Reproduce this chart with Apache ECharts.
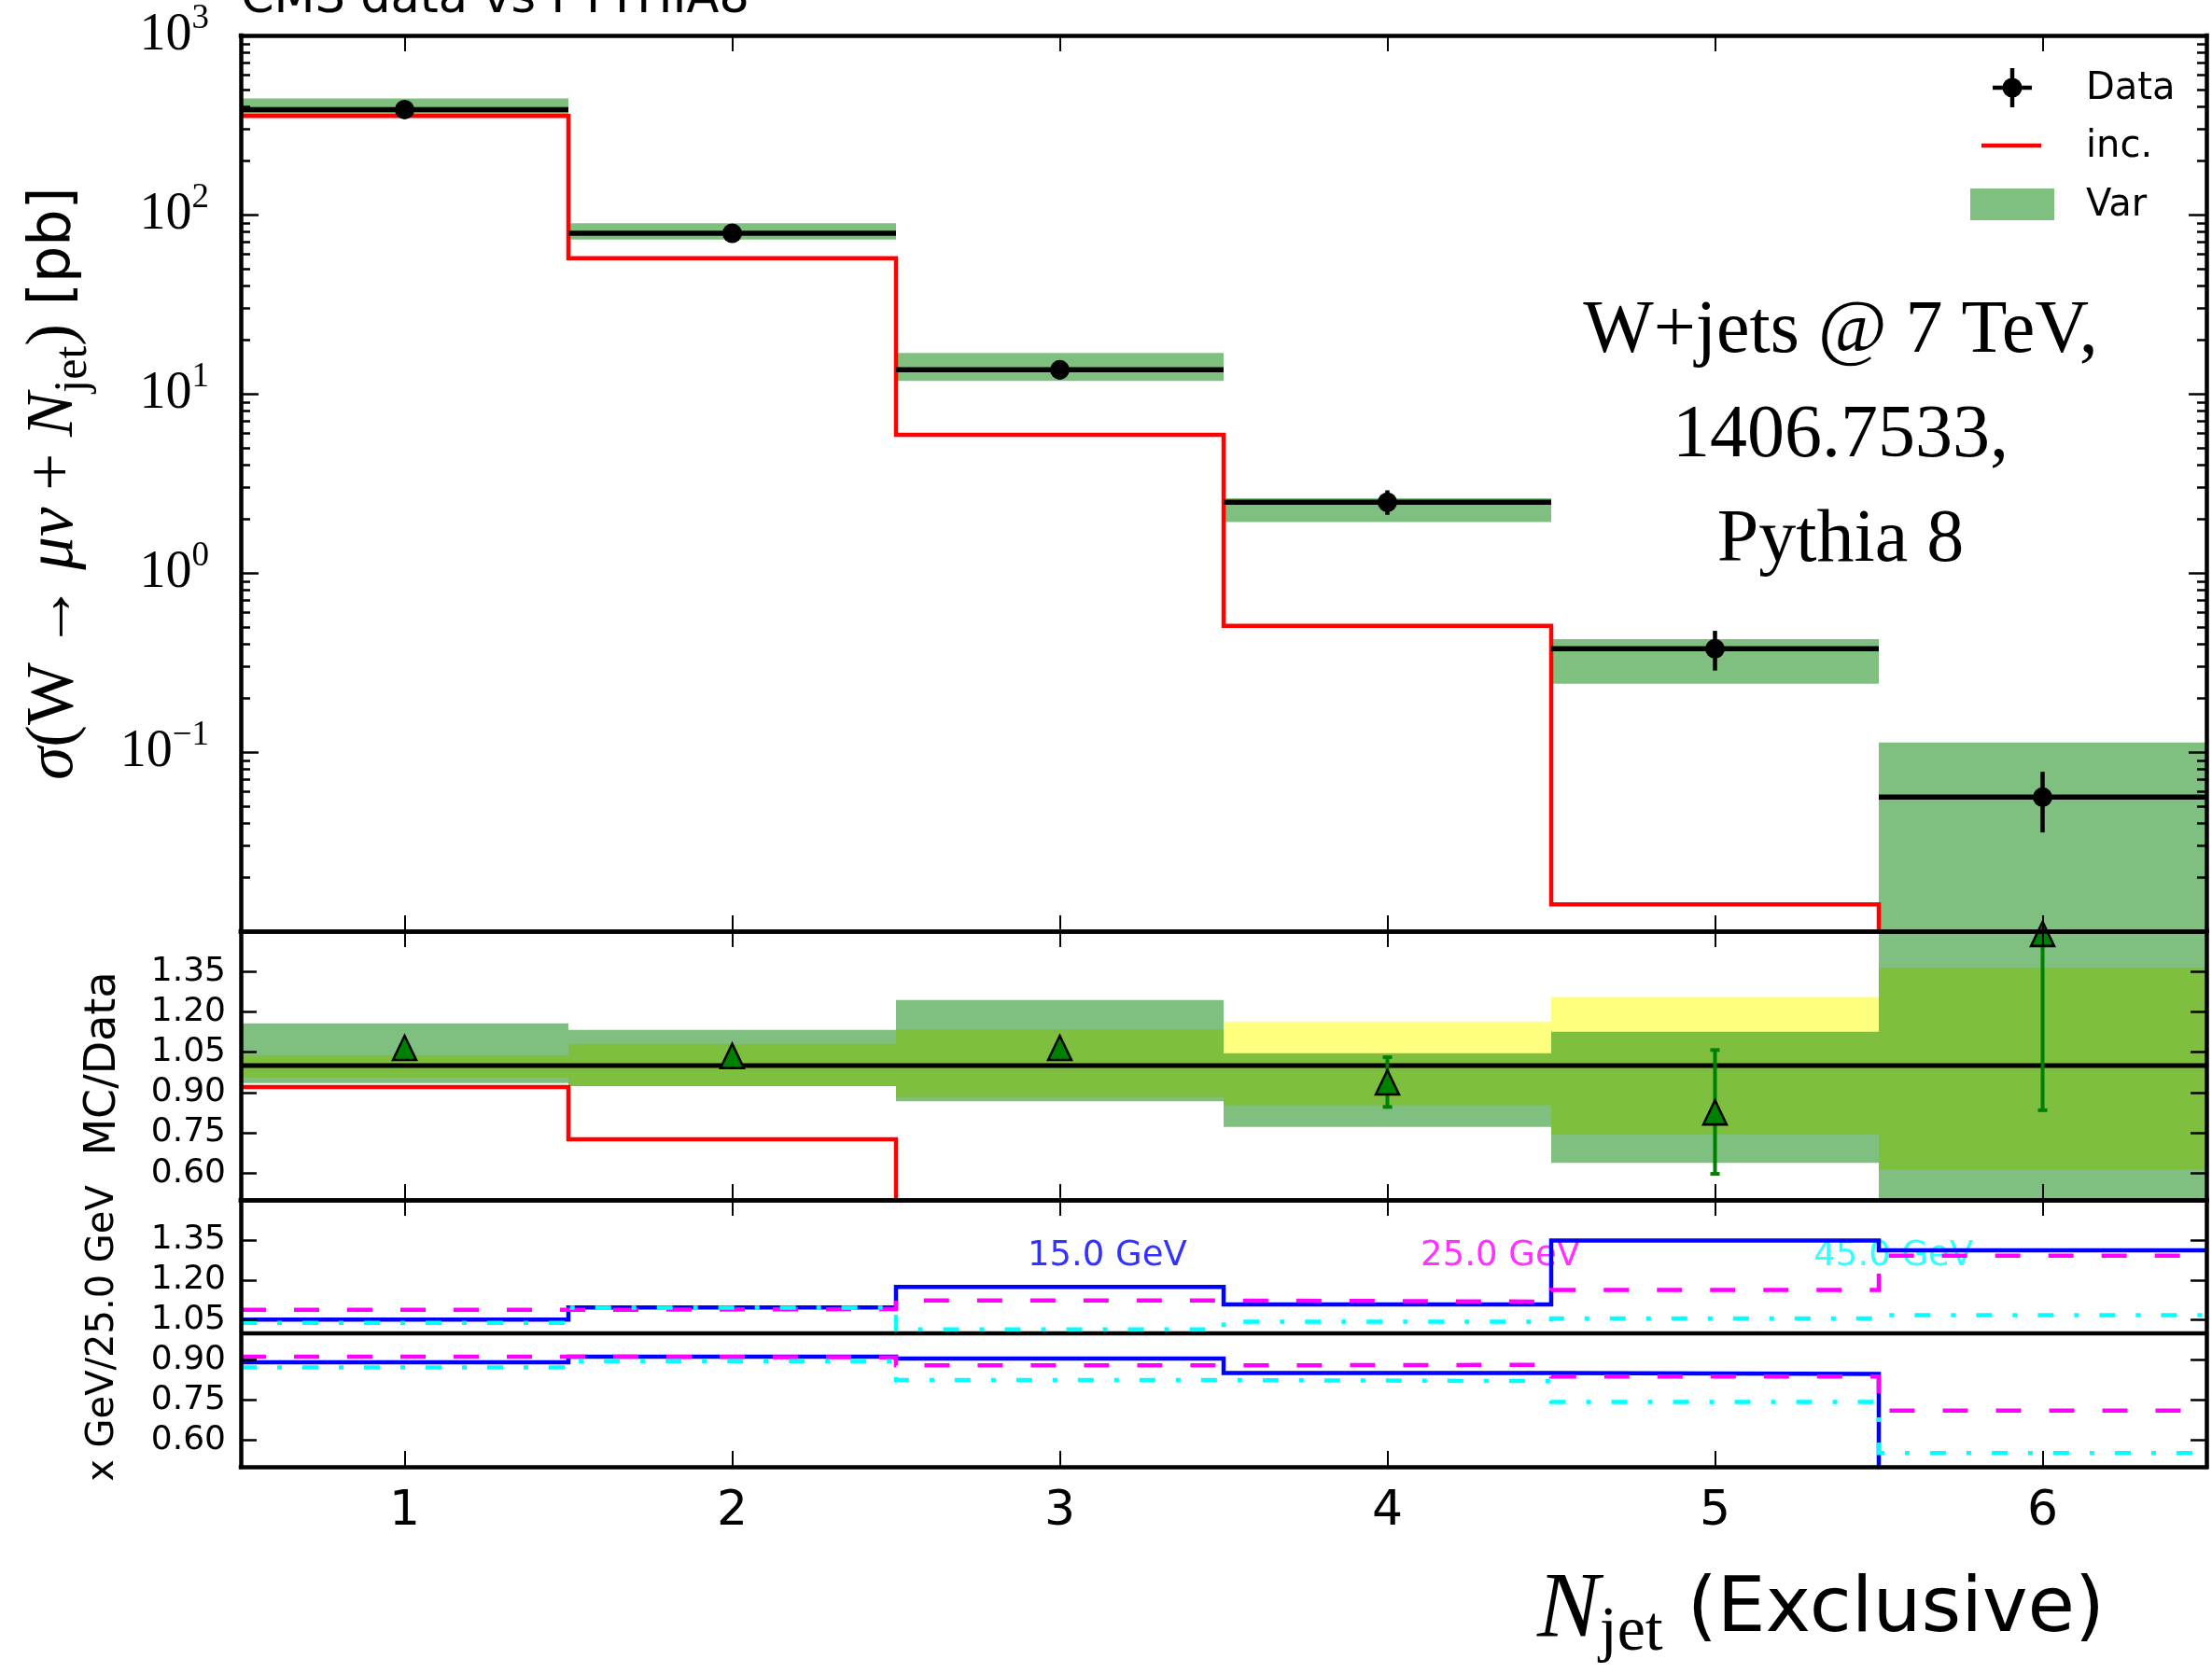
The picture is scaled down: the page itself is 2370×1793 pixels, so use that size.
<!DOCTYPE html>
<html>
<head>
<meta charset="utf-8">
<title>W+jets exclusive jet multiplicity</title>
<script src="https://cdn.jsdelivr.net/npm/echarts@6.0.0/dist/echarts.min.js"></script>
<style>
  html, body { margin: 0; padding: 0; background: #ffffff; }
  #chart { width: 2370px; height: 1793px; }
</style>
</head>
<body>
<div id="chart"></div>
<script>
// ---- bins (exclusive jet multiplicity) ----
const nJet = [1, 2, 3, 4, 5, 6];
const xTickValues = [1, 2, 3, 4, 5, 6];

// ---- top panel: cross sections [pb] ----
const dataXsec   = [386, 78.7, 13.6, 2.48, 0.377, 0.056];
const dataXsecLo = [369, 72.7, 12.0, 2.11, 0.285, 0.0356];
const dataXsecHi = [401, 85.1, 15.4, 2.89, 0.475, 0.0776];
const varXsecLo  = [362, 72.6, 11.8, 1.92, 0.241, 0.004];
const varXsecHi  = [445, 89.4, 16.9, 2.61, 0.427, 0.113];
const incXsec    = [355, 57.1, 5.9, 0.507, 0.0141, 0.001];

// ---- middle panel: MC/Data ----
const dataRelLo    = [0.956, 0.924, 0.881, 0.852, 0.744, 0.612];
const dataRelHi    = [1.039, 1.081, 1.135, 1.164, 1.255, 1.365];
const varRelLo     = [0.935, 0.924, 0.867, 0.772, 0.638, 0.07];
const varRelHi     = [1.157, 1.133, 1.244, 1.046, 1.126, 2.0];
const incRel       = [0.92, 0.726, 0.434, 0.204, 0.037, 0.02];
const varCentral   = [1.066, 1.036, 1.066, 0.9375, 0.826, 1.49];
const varCentralLo = [1.058, 1.028, 1.058, 0.846, 0.597, 0.834];
const varCentralHi = [1.074, 1.044, 1.074, 1.031, 1.058, 2.15];

// ---- bottom panel: jet-pT threshold variations relative to 25.0 GeV ----
const cut15Up   = [1.052, 1.097, 1.174, 1.108, 1.348, 1.311];
const cut25Up   = [1.088, 1.091, 1.123, 1.119, 1.163, 1.291];
const cut45Up   = [1.039, 1.096, 1.015, 1.044, 1.056, 1.068];
const cut15Down = [0.892, 0.913, 0.906, 0.851, 0.848, 0];
const cut25Down = [0.913, 0.910, 0.880, 0.882, 0.838, 0.711];
const cut45Down = [0.872, 0.896, 0.825, 0.821, 0.743, 0.552];
const cutLabels = ['15.0 GeV', '25.0 GeV', '45.0 GeV'];

// ---- tick values ----
const decadeTicks  = [0.01, 0.1, 1, 10, 100, 1000];
const decadeLabels = [0.1, 1, 10, 100, 1000];
const ratioTicks   = [0.6, 0.75, 0.9, 1.05, 1.2, 1.35];
const unity        = 1;

// minor log ticks: 2..9 inside each decade
const minorTicks = [];
decadeTicks.slice(0, -1).forEach(d => {
  for (let k = 2; k <= 9; k++) minorTicks.push(+(d * k).toPrecision(3));
});

const GREEN_FILL = 'rgba(0,128,0,0.5)';
const YELLOW_FILL = 'rgba(255,255,0,0.5)';

// histogram outline: one point per lower bin edge plus the final upper edge
function stepData(vals) {
  const d = nJet.map((x, i) => [x - 0.5, vals[i]]);
  d.push([nJet[nJet.length - 1] + 0.5, vals[vals.length - 1]]);
  return d;
}

function frameLine(show) {
  return { show: show, onZero: false, lineStyle: { color: '#000', width: 4.5, cap: 'square' } };
}

function xAxisCfg(grid, pos, withLabels) {
  return {
    type: 'value', gridIndex: grid, position: pos, min: 0.5, max: 6.5, z: 10,
    axisLine: frameLine(true),
    axisTick: { show: true, inside: true, length: 17, customValues: xTickValues,
                lineStyle: { color: '#000', width: 2 } },
    axisLabel: withLabels
      ? { show: true, customValues: xTickValues, margin: 22, color: '#000',
          fontFamily: 'DejaVu Sans', fontSize: 52 }
      : { show: false },
    splitLine: { show: false }
  };
}

function supLabel(v) {
  const e = Math.round(Math.log10(v));
  return '{b|10}{sup|' + (e < 0 ? '\u2212' + (-e) : e) + '}';
}

function logAxisCfg(pos, ticks, len, line, withLabels) {
  return {
    type: 'log', logBase: 10, gridIndex: 0, position: pos, min: 0.01, max: 1000, z: 10,
    axisLine: frameLine(line),
    axisTick: { show: true, inside: true, length: len, customValues: ticks,
                lineStyle: { color: '#000', width: 2.5 } },
    axisLabel: withLabels ? {
      show: true, customValues: decadeLabels, margin: 34, formatter: supLabel,
      rich: {
        b:   { fontFamily: 'Liberation Serif', fontSize: 56, lineHeight: 72, verticalAlign: 'middle', color: '#000' },
        sup: { fontFamily: 'Liberation Serif', fontSize: 37, lineHeight: 37, verticalAlign: 'top', color: '#000' }
      }
    } : { show: false },
    splitLine: { show: false }
  };
}

function ratioAxisCfg(grid, pos, withLabels) {
  return {
    type: 'value', gridIndex: grid, position: pos, min: 0.5, max: 1.5, z: 10,
    axisLine: frameLine(true),
    axisTick: { show: true, inside: true, length: 17, customValues: ratioTicks,
                lineStyle: { color: '#000', width: 2.5 } },
    axisLabel: withLabels ? {
      show: true, customValues: ratioTicks, margin: 16, color: '#000',
      fontFamily: 'DejaVu Sans', fontSize: 36, formatter: v => v.toFixed(2)
    } : { show: false },
    splitLine: { show: false }
  };
}

// filled band per bin between lo and hi
function bandSeries(xi, yi, lo, hi, fill, z) {
  return {
    type: 'custom', xAxisIndex: xi, yAxisIndex: yi, clip: true, z: z, silent: true,
    encode: { x: 0, y: [1, 2] },
    data: nJet.map((x, i) => [x, lo[i], hi[i]]),
    renderItem: (params, api) => {
      const x = api.value(0);
      const p1 = api.coord([x - 0.5, api.value(2)]);
      const p2 = api.coord([x + 0.5, api.value(1)]);
      return { type: 'rect',
               shape: { x: p1[0], y: p1[1], width: p2[0] - p1[0], height: p2[1] - p1[1] },
               style: { fill: fill } };
    }
  };
}

function stepSeries(xi, yi, vals, color, width, dash, z) {
  return {
    type: 'line', xAxisIndex: xi, yAxisIndex: yi, step: 'end', symbol: 'none',
    clip: true, silent: true, z: z, data: stepData(vals),
    lineStyle: { color: color, width: width, type: dash || 'solid', join: 'miter', cap: 'butt' }
  };
}

const DASHED = [27, 30];
const DASHDOT = [17, 22, 5, 22];

const option = {
  animation: false,
  backgroundColor: '#ffffff',
  grid: [
    { left: 258, right: 6, top: 38, height: 960, outerBoundsMode: 'none' },
    { left: 258, right: 6, top: 998, height: 288, outerBoundsMode: 'none' },
    { left: 258, right: 6, top: 1286, height: 286, outerBoundsMode: 'none' }
  ],
  xAxis: [
    xAxisCfg(0, 'bottom', false), xAxisCfg(0, 'top', false),
    xAxisCfg(1, 'bottom', false), xAxisCfg(1, 'top', false),
    xAxisCfg(2, 'bottom', true),  xAxisCfg(2, 'top', false)
  ],
  yAxis: [
    logAxisCfg('left', decadeTicks, 19, true, true),
    logAxisCfg('right', decadeTicks, 19, true, false),
    logAxisCfg('left', minorTicks, 10, false, false),
    logAxisCfg('right', minorTicks, 10, false, false),
    ratioAxisCfg(1, 'left', true), ratioAxisCfg(1, 'right', false),
    ratioAxisCfg(2, 'left', true), ratioAxisCfg(2, 'right', false)
  ],
  series: [
    // ---- top panel ----
    bandSeries(0, 0, varXsecLo, varXsecHi, GREEN_FILL, 1),
    stepSeries(0, 0, incXsec, '#ff0000', 4.5, null, 3),
    {
      type: 'custom', xAxisIndex: 0, yAxisIndex: 0, clip: true, z: 4, silent: true,
      encode: { x: 0, y: [1, 2, 3] },
      data: nJet.map((x, i) => [x, dataXsec[i], dataXsecLo[i], dataXsecHi[i]]),
      renderItem: (params, api) => {
        const x = api.value(0), y = api.value(1);
        const a = api.coord([x - 0.5, y]), b = api.coord([x + 0.5, y]);
        const c = api.coord([x, y]);
        const lo = api.coord([x, api.value(2)]), hi = api.coord([x, api.value(3)]);
        return { type: 'group', children: [
          { type: 'line', shape: { x1: a[0], y1: a[1], x2: b[0], y2: b[1] }, style: { stroke: '#000', lineWidth: 5.5 } },
          { type: 'line', shape: { x1: c[0], y1: hi[1], x2: c[0], y2: lo[1] }, style: { stroke: '#000', lineWidth: 4.5 } },
          { type: 'circle', shape: { cx: c[0], cy: c[1], r: 10.5 }, style: { fill: '#000' } }
        ]};
      }
    },
    // ---- middle panel ----
    bandSeries(2, 4, dataRelLo, dataRelHi, YELLOW_FILL, 1),
    bandSeries(2, 4, varRelLo, varRelHi, GREEN_FILL, 2),
    {
      type: 'line', xAxisIndex: 2, yAxisIndex: 4, symbol: 'none', silent: true, z: 3,
      data: [[0.5, unity], [6.5, unity]], lineStyle: { color: '#000', width: 5 }
    },
    stepSeries(2, 4, incRel, '#ff0000', 4.5, null, 4),
    {
      type: 'custom', xAxisIndex: 2, yAxisIndex: 4, clip: true, z: 5, silent: true,
      encode: { x: 0, y: [1, 2] },
      data: nJet.map((x, i) => [x, varCentralLo[i], varCentralHi[i]]),
      renderItem: (params, api) => {
        const x = api.value(0);
        const lo = api.coord([x, api.value(1)]), hi = api.coord([x, api.value(2)]);
        const cap = 5;
        const st = { stroke: '#008000', lineWidth: 4 };
        return { type: 'group', children: [
          { type: 'line', shape: { x1: lo[0], y1: lo[1], x2: hi[0], y2: hi[1] }, style: st },
          { type: 'line', shape: { x1: lo[0] - cap, y1: lo[1], x2: lo[0] + cap, y2: lo[1] }, style: st },
          { type: 'line', shape: { x1: hi[0] - cap, y1: hi[1], x2: hi[0] + cap, y2: hi[1] }, style: st }
        ]};
      }
    },
    {
      type: 'scatter', xAxisIndex: 2, yAxisIndex: 4, z: 6, silent: true,
      symbol: 'triangle', symbolSize: [25, 26],
      itemStyle: { color: '#008000', borderColor: '#000', borderWidth: 2.5, opacity: 1 },
      data: nJet.map((x, i) => [x, varCentral[i]])
    },
    // ---- bottom panel ----
    {
      type: 'line', xAxisIndex: 4, yAxisIndex: 6, symbol: 'none', silent: true, z: 2,
      data: [[0.5, unity], [6.5, unity]], lineStyle: { color: '#000', width: 4.5 }
    },
    stepSeries(4, 6, cut15Up, '#0000ff', 4.5, null, 3),
    stepSeries(4, 6, cut25Up, '#ff00ff', 4.5, DASHED, 3),
    stepSeries(4, 6, cut45Up, '#00ffff', 4.5, DASHDOT, 3),
    stepSeries(4, 6, cut15Down, '#0000ff', 4.5, null, 3),
    stepSeries(4, 6, cut25Down, '#ff00ff', 4.5, DASHED, 3),
    stepSeries(4, 6, cut45Down, '#00ffff', 4.5, DASHDOT, 3),
    {
      type: 'scatter', xAxisIndex: 4, yAxisIndex: 6, z: 2, silent: true,
      symbolSize: 1, itemStyle: { color: 'rgba(0,0,0,0)' },
      label: { show: true, position: 'right', distance: 0, formatter: '{b}',
               fontFamily: 'DejaVu Sans', fontSize: 37 },
      data: [
        { name: cutLabels[0], value: [2.9, 1.29], label: { color: '#0000ff' } },
        { name: cutLabels[1], value: [4.1, 1.29], label: { color: '#ff00ff' } },
        { name: cutLabels[2], value: [5.3, 1.29], label: { color: '#00ffff' } }
      ]
    }
  ],
  graphic: [
    // header
    { type: 'text', x: 258, y: 0, style: { text: 'CMS data vs PYTHIA8', fill: '#000',
      fontFamily: 'DejaVu Sans', fontSize: 51, align: 'left', verticalAlign: 'middle' } },
    // process / reference annotation
    { type: 'text', x: 1972, y: 300, style: { text: 'W+jets @ 7 TeV,\n1406.7533,\nPythia 8',
      fill: '#000', fontFamily: 'Liberation Serif', fontSize: 80, lineHeight: 112,
      align: 'center', verticalAlign: 'top' } },
    // y title of the cross-section panel
    { type: 'text', x: 58, y: 518, rotation: Math.PI / 2, style: {
      text: '{i|\u03c3}{m|(W\u2009\u2192\u2009}{i|\u03bc\u03bd}{m| + }{i|N}{sub|jet}{m|)}{s| [pb]}',
      align: 'center', verticalAlign: 'middle', fill: '#000',
      rich: {
        m:   { fontFamily: 'Liberation Serif', fontSize: 71, lineHeight: 92, verticalAlign: 'middle', fill: '#000' },
        i:   { fontFamily: 'Liberation Serif', fontStyle: 'italic', fontSize: 71, lineHeight: 92, verticalAlign: 'middle', fill: '#000' },
        sub: { fontFamily: 'Liberation Serif', fontSize: 50, lineHeight: 50, verticalAlign: 'bottom', fill: '#000' },
        s:   { fontFamily: 'DejaVu Sans', fontSize: 62, lineHeight: 92, verticalAlign: 'middle', fill: '#000' }
      } } },
    // ratio panel titles
    { type: 'text', x: 111, y: 1140, rotation: Math.PI / 2, style: { text: 'MC/Data', fill: '#000',
      fontFamily: 'DejaVu Sans', fontSize: 46, align: 'center', verticalAlign: 'middle' } },
    { type: 'text', x: 111, y: 1429, rotation: Math.PI / 2, style: { text: 'x GeV/25.0 GeV', fill: '#000',
      fontFamily: 'DejaVu Sans', fontSize: 40, align: 'center', verticalAlign: 'middle' } },
    // x title
    { type: 'text', x: 2255, y: 1727, style: {
      text: '{i|N}{sub|jet}{s| (Exclusive)}', align: 'right', verticalAlign: 'middle', fill: '#000',
      rich: {
        i:   { fontFamily: 'Liberation Serif', fontStyle: 'italic', fontSize: 100, lineHeight: 115, verticalAlign: 'middle', fill: '#000' },
        sub: { fontFamily: 'Liberation Serif', fontSize: 68, lineHeight: 68, verticalAlign: 'bottom', fill: '#000' },
        s:   { fontFamily: 'DejaVu Sans', fontSize: 82, lineHeight: 115, verticalAlign: 'middle', fill: '#000' }
      } } },
    // legend
    { type: 'group', children: [
      { type: 'line', shape: { x1: 2135, y1: 94, x2: 2177, y2: 94 }, style: { stroke: '#000', lineWidth: 4.5 } },
      { type: 'line', shape: { x1: 2156, y1: 73, x2: 2156, y2: 115 }, style: { stroke: '#000', lineWidth: 4.5 } },
      { type: 'circle', shape: { cx: 2156, cy: 94, r: 10.5 }, style: { fill: '#000' } },
      { type: 'line', shape: { x1: 2123, y1: 156, x2: 2187, y2: 156 }, style: { stroke: '#ff0000', lineWidth: 4.5 } },
      { type: 'rect', shape: { x: 2111, y: 202, width: 90, height: 34 }, style: { fill: GREEN_FILL } },
      { type: 'text', x: 2235, y: 96, style: { text: 'Data', fill: '#000', fontFamily: 'DejaVu Sans', fontSize: 40, verticalAlign: 'middle' } },
      { type: 'text', x: 2235, y: 158, style: { text: 'inc.', fill: '#000', fontFamily: 'DejaVu Sans', fontSize: 40, verticalAlign: 'middle' } },
      { type: 'text', x: 2235, y: 221, style: { text: 'Var', fill: '#000', fontFamily: 'DejaVu Sans', fontSize: 40, verticalAlign: 'middle' } }
    ]}
  ]
};

const chart = echarts.init(document.getElementById('chart'), null, { renderer: 'canvas', width: 2370, height: 1793 });
chart.setOption(option);
</script>
</body>
</html>
